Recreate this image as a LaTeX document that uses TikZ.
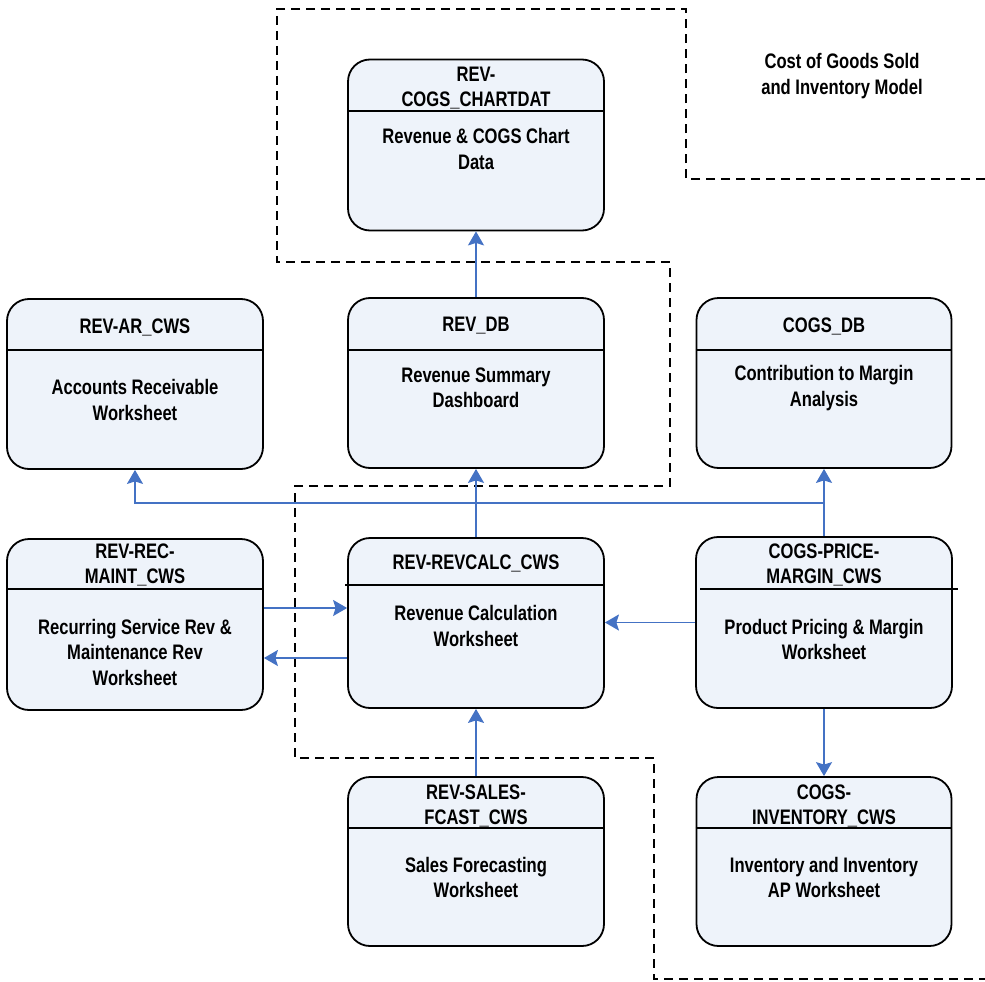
\documentclass[tikz,border=0pt]{standalone}
\usepackage{fontspec}
\setmainfont{Liberation Sans}[FakeStretch=0.79]
\usetikzlibrary{arrows.meta}
\definecolor{boxfill}{HTML}{EEF3FA}
\definecolor{flowblue}{HTML}{4472C4}
\tikzset{
  sheet/.style={draw=black, line width=1.8pt, fill=boxfill, rounded corners=22pt,
    inner sep=0pt, minimum width=256pt, minimum height=170pt},
  label/.style={align=center, inner sep=0pt, font=\fontsize{21}{25.5}\selectfont\bfseries},
  divider/.style={draw=black, line width=1.6pt},
  flow/.style={draw=flowblue, line width=1.8pt,
    -{Stealth[length=14pt,width=16pt,inset=2.5pt]}},
  boundary/.style={draw=black, line width=1.8pt, dash pattern=on 9pt off 6pt}
}
\begin{document}
\begin{tikzpicture}[x=1pt,y=-1pt]
\useasboundingbox (0,0) rectangle (985,982);

% model boundary
\draw[boundary] (985,179) -- (686,179) -- (686,9) -- (277,9) -- (277,262)
  -- (670,262) -- (670,486) -- (295,486) -- (295,758) -- (654,758)
  -- (654,979) -- (985,979);

\node[label] (title) at (842,76) {Cost of Goods Sold\\ and Inventory Model};

% worksheets
\node[sheet, minimum height=171pt] (chart) at (476,145) {};
\node[sheet] (ar) at (135,384) {};
\node[sheet] (db) at (476,383) {};
\node[sheet, minimum width=255pt] (cogsdb) at (824,383) {};
\node[sheet, minimum height=171pt] (rec) at (135,624.5) {};
\node[sheet] (calc) at (476,623) {};
\node[sheet, minimum height=171pt] (price) at (824,622.5) {};
\node[sheet, minimum height=169pt] (fcast) at (476,861.5) {};
\node[sheet, minimum width=255pt, minimum height=169pt] (inv) at (824,861.5) {};

% header dividers
\draw[divider] (chart.west |- 0,111) -- (chart.east |- 0,111);
\draw[divider] (ar.west |- 0,350) -- (ar.east |- 0,350);
\draw[divider] (db.west |- 0,350) -- (db.east |- 0,350);
\draw[divider] (cogsdb.west |- 0,350) -- (cogsdb.east |- 0,350);
\draw[divider] (rec.west |- 0,589) -- (rec.east |- 0,589);
\draw[divider] (345,585) -- (calc.east |- 0,585);
\draw[divider] (700,589) -- (958,589);
\draw[divider] (fcast.west |- 0,828) -- (fcast.east |- 0,828);
\draw[divider] (inv.west |- 0,828) -- (inv.east |- 0,828);

% headers
\node[label] (chart-h) at (476,88) {REV-\\COGS\_CHARTDAT};
\node[label] (ar-h) at (135,327) {REV-AR\_CWS};
\node[label] (db-h) at (476,326) {REV\_DB};
\node[label] (cogsdb-h) at (824,326) {COGS\_DB};
\node[label] (rec-h) at (135,565) {REV-REC-\\MAINT\_CWS};
\node[label] (calc-h) at (476,563) {REV-REVCALC\_CWS};
\node[label] (price-h) at (824,565) {COGS-PRICE-\\MARGIN\_CWS};
\node[label] (fcast-h) at (476,806) {REV-SALES-\\FCAST\_CWS};
\node[label] (inv-h) at (824,806) {COGS-\\INVENTORY\_CWS};

% descriptions
\node[label] (chart-b) at (476,149) {Revenue \& COGS Chart\\Data};
\node[label] (ar-b) at (135,400) {Accounts Receivable\\Worksheet};
\node[label] (db-b) at (476,388) {Revenue Summary\\Dashboard};
\node[label] (cogsdb-b) at (824,388) {Contribution to Margin\\Analysis};
\node[label] (rec-b) at (135,652) {Recurring Service Rev \&\\Maintenance Rev\\Worksheet};
\node[label] (calc-b) at (476,626) {Revenue Calculation\\Worksheet};
\node[label] (price-b) at (824,639.5) {Product Pricing \& Margin\\Worksheet};
\node[label] (fcast-b) at (476,877.5) {Sales Forecasting\\Worksheet};
\node[label] (inv-b) at (824,877.5) {Inventory and Inventory\\AP Worksheet};

% data flows
\draw[flow] (db.north) -- (chart.south);
\draw[flow] (calc.north) -- (db.south);
\draw[flow] (fcast.north) -- (calc.south);
\draw[flow] (price.west) -- (calc.east |- price.west);
\draw[flow] ([yshift=16.5pt]rec.east) -- ([yshift=15pt]calc.west);
\draw[flow] ([yshift=-35pt]calc.west) -- ([yshift=-33.5pt]rec.east);
\draw[flow] (price.north) -- (cogsdb.south);
\draw[flow] (price.north) -- ++(0,-33) -| (ar.south);
\draw[flow] (price.south) -- (inv.north);
\end{tikzpicture}
\end{document}
